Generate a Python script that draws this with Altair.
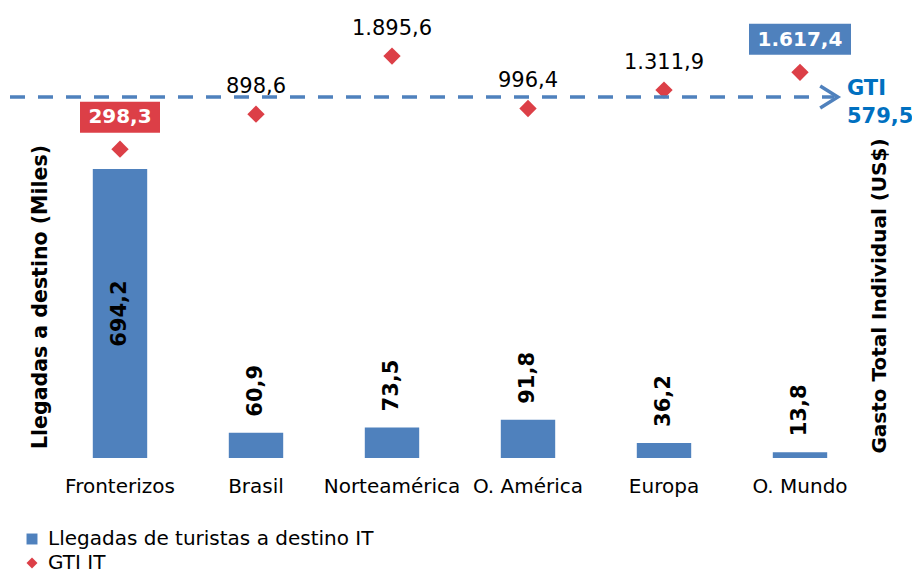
import altair as alt
import pandas as pd

FONT = "DejaVu Sans"
BLUE = "#4F81BD"
RED = "#DC3F47"
GTI_BLUE = "#0070C0"

# ---- data -------------------------------------------------------------
categorias = ["Fronterizos", "Brasil", "Norteamérica", "O. América", "Europa", "O. Mundo"]
llegadas = [694.2, 60.9, 73.5, 91.8, 36.2, 13.8]
llegadas_txt = ["694,2", "60,9", "73,5", "91,8", "36,2", "13,8"]
gti = [298.3, 898.6, 1895.6, 996.4, 1311.9, 1617.4]
gti_txt = ["298,3", "898,6", "1.895,6", "996,4", "1.311,9", "1.617,4"]
destacado = ["rojo", "", "", "", "", "azul"]
series = ["Llegadas de turistas a destino IT", "GTI IT"]
titulo_izq = "Llegadas a destino (Miles)"
titulo_der = "Gasto Total Individual (US$)"
gti_total = [579.5]
gti_total_txt = ["GTI", "579,5"]

df = pd.DataFrame({
    "cat": categorias,
    "llegadas": llegadas,
    "llegadas_txt": llegadas_txt,
    "gti": gti,
    "gti_txt": gti_txt,
    "dest": destacado,
})
ann = pd.DataFrame({"v": gti_total, "label": ["\n".join(gti_total_txt)],
                    "t_izq": [titulo_izq], "t_der": [titulo_der]})

base = alt.Chart(df)

x = alt.X(
    "cat:N", sort=categorias,
    scale=alt.Scale(paddingInner=0.6, paddingOuter=0.3),
    axis=alt.Axis(title=None, labelAngle=0, ticks=False, domain=False, grid=False,
                  labelPadding=18, labelFontSize=20, labelFont=FONT, labelColor="black"),
)

# ---- bars (left scale) -----------------------------------------------
sL = alt.Scale(domain=[0, 980], nice=False)
bars = base.mark_bar(color=BLUE).encode(x=x, y=alt.Y("llegadas:Q", scale=sL, axis=None))
bar_in = base.transform_filter("datum.llegadas > 300").transform_calculate(
    mid="datum.llegadas / 2"
).mark_text(angle=270, align="center", baseline="middle", fontSize=21, fontWeight="bold",
            font=FONT, color="black").encode(
    x=x, y=alt.Y("mid:Q", scale=sL, axis=None), text="llegadas_txt:N")
bar_out = base.transform_filter("datum.llegadas <= 300").mark_text(
    angle=270, align="left", baseline="middle", dx=16, fontSize=21, fontWeight="bold",
    font=FONT, color="black").encode(
    x=x, y=alt.Y("llegadas:Q", scale=sL, axis=None), text="llegadas_txt:N")
left_layer = alt.layer(bars, bar_in, bar_out)

# ---- GTI points (right scale) ----------------------------------------
sR = alt.Scale(domain=[-5000, 2000], nice=False)
yR = alt.Y("gti:Q", scale=sR, axis=None)
leg = alt.Legend(title=None, orient="none", legendX=-30, legendY=479, direction="vertical",
                 labelFontSize=20, labelFont=FONT, labelColor="black", symbolSize=120,
                 labelOffset=6, rowPadding=4, symbolStrokeWidth=0, labelLimit=0)
pts = base.transform_calculate(serie=f"'{series[1]}'").mark_point(
    filled=True, size=300, opacity=1).encode(
    x=x, y=yR,
    color=alt.Color("serie:N", scale=alt.Scale(domain=series, range=[BLUE, RED]), legend=leg),
    shape=alt.Shape("serie:N", scale=alt.Scale(domain=series, range=["square", "diamond"]), legend=leg),
)
gti_lbl = base.transform_filter("datum.dest == ''").mark_text(
    baseline="alphabetic", dy=-21, fontSize=21, font=FONT, color="black").encode(
    x=x, y=yR, text="gti_txt:N")
box_red = base.transform_filter("datum.dest == 'rojo'").mark_point(
    shape="M-1,-0.3875L1,-0.3875L1,0.3875L-1,0.3875Z", size=6400, filled=True, opacity=1,
    color=RED, yOffset=-32).encode(x=x, y=yR)
box_blue = base.transform_filter("datum.dest == 'azul'").mark_point(
    shape="M-1,-0.304L1,-0.304L1,0.304L-1,0.304Z", size=10404, filled=True, opacity=1,
    color=BLUE, yOffset=-33).encode(x=x, y=yR)
box_txt = base.transform_filter("datum.dest != ''").mark_text(
    baseline="middle", dy=-32, fontSize=20, fontWeight="bold", font=FONT, color="white").encode(
    x=x, y=yR, text="gti_txt:N")
right_layer = alt.layer(pts, gti_lbl, box_red, box_blue, box_txt)

# ---- GTI total callout (own scale) + axis titles ---------------------
yA = alt.Y("v:Q", scale=alt.Scale(domain=[0, 655], nice=False), axis=None)
a = alt.Chart(ann)
rule = a.mark_rule(strokeDash=[15, 13], strokeWidth=3.5, color=BLUE).encode(
    y=yA, x=alt.value(-42), x2=alt.value(782))
arrow = a.mark_point(shape="M-0.8,-1L0.8,0L-0.8,1", size=484, filled=False, strokeWidth=3.5,
                     color=BLUE, opacity=1).encode(y=yA, x=alt.value(777))
ann_txt = a.mark_text(align="left", baseline="middle", lineBreak="\n", lineHeight=28, dy=-8,
                      fontSize=21, fontWeight="bold", font=FONT, color=GTI_BLUE).encode(
    y=yA, x=alt.value(795), text="label:N")
t_izq = a.mark_text(angle=270, align="center", baseline="alphabetic", fontSize=20.5,
                    fontWeight="bold", font=FONT, color="black").encode(
    x=alt.value(-5), y=alt.value(247), text="t_izq:N")
t_der = a.mark_text(angle=270, align="center", baseline="alphabetic", fontSize=20,
                    fontWeight="bold", font=FONT, color="black").encode(
    x=alt.value(834), y=alt.value(246), text="t_der:N")
ann_layer = alt.layer(rule, arrow, ann_txt, t_izq, t_der)

chart = alt.layer(left_layer, right_layer, ann_layer).resolve_scale(
    y="independent"
).properties(
    width=816, height=408,
    autosize=alt.AutoSizeParams(type="none"),
    padding={"left": 44, "top": 42, "right": 44, "bottom": 119},
    background="white",
).configure_view(stroke=None)

chart.save("out.html", embed_options={"renderer": "svg", "actions": False})
